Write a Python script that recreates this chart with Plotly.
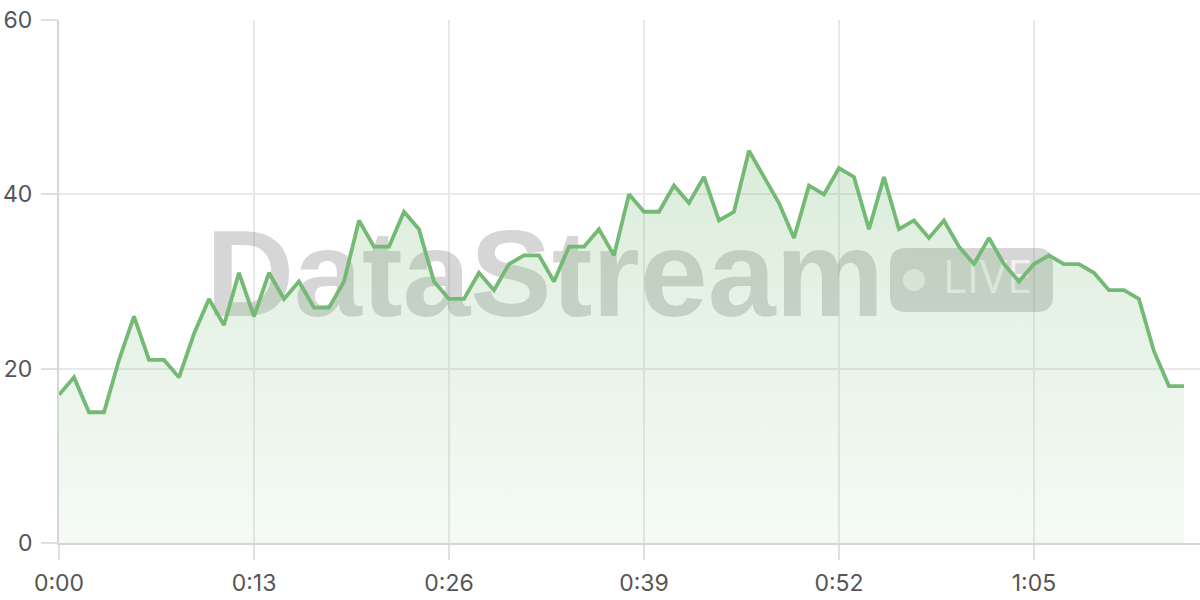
import plotly.graph_objects as go

# ---- data ----
values = [17, 19, 15, 15, 21, 26, 21, 21, 19, 24, 28, 25, 31, 26, 31, 28, 30, 27, 27, 30,
          37, 34, 34, 38, 36, 30, 28, 28, 31, 29, 32, 33, 33, 30, 34, 34, 36, 33, 40, 38,
          38, 41, 39, 42, 37, 38, 45, 42, 39, 35, 41, 40, 43, 42, 36, 42, 36, 37, 35, 37,
          34, 32, 35, 32, 30, 32, 33, 32, 32, 31, 29, 29, 28, 22, 18, 18]
seconds = list(range(len(values)))
tick_vals = [0, 13, 26, 39, 52, 65]
tick_text = ["0:00", "0:13", "0:26", "0:39", "0:52", "1:05"]
y_ticks = [0, 20, 40, 60]

LINE = "rgb(116,185,116)"
GRID = "#e9e9e9"
TICK = "#e0e0e0"
AXIS = "#d6d6d6"
LABEL = "#555555"
FONT = "Inter"

fig = go.Figure()

# watermark text (drawn first so it sits under the data)
fig.add_trace(go.Scatter(
    x=[32.4], y=[29.5], mode="text", text=["DataStream"],
    textposition="middle center",
    textfont=dict(family="Liberation Sans", size=122, color="rgba(120,120,120,0.30)", weight=700),
    hoverinfo="skip", showlegend=False, cliponaxis=False))
fig.add_trace(go.Scatter(
    x=[61.9], y=[30.0], mode="text", text=["LIVE"],
    textposition="middle center",
    textfont=dict(family="Open Sans", size=46, color="rgba(255,255,255,0.70)", weight=400),
    hoverinfo="skip", showlegend=False, cliponaxis=False))

# data
fig.add_trace(go.Scatter(
    x=seconds, y=values, mode="lines",
    line=dict(color=LINE, width=3.8),
    fill="tozeroy",
    fillgradient=dict(type="vertical", start=0, stop=45,
                      colorscale=[[0, "rgba(116,185,116,0.07)"], [1, "rgba(116,185,116,0.26)"]]),
    hoverinfo="skip", showlegend=False))

badge_x = (971.5 - 59) / 15
badge_y = (543 - 280) / (523 / 60)
fig.add_shape(type="path", xref="x", yref="y", xsizemode="pixel", ysizemode="pixel",
              xanchor=badge_x, yanchor=badge_y, layer="between",
              path="M -65.5,-32 L 65.5,-32 Q 81.5,-32 81.5,-16 L 81.5,16 Q 81.5,32 65.5,32 "
                   "L -65.5,32 Q -81.5,32 -81.5,16 L -81.5,-16 Q -81.5,-32 -65.5,-32 Z",
              fillcolor="rgba(120,120,120,0.30)", line=dict(width=0))
fig.add_shape(type="circle", xref="x", yref="y", xsizemode="pixel", ysizemode="pixel",
              xanchor=badge_x, yanchor=badge_y, layer="between",
              x0=-68.5, x1=-46.5, y0=-11, y1=11,
              fillcolor="rgba(255,255,255,0.60)", line=dict(width=0))

fig.update_layout(
    width=1200, height=600,
    margin=dict(l=59, r=0, t=20, b=57),
    paper_bgcolor="white", plot_bgcolor="white",
    font=dict(family=FONT, size=23, color=LABEL),
    showlegend=False,
    xaxis=dict(range=[0, 76.07], tickvals=tick_vals, ticktext=tick_text,
               showgrid=True, gridcolor=GRID, gridwidth=2,
               ticks="outside", ticklen=15, tickcolor=TICK, tickwidth=2,
               ticklabelstandoff=3,
               showline=True, linecolor=AXIS, linewidth=2,
               zeroline=False, fixedrange=True,
               tickfont=dict(family=FONT, size=23, color=LABEL)),
    yaxis=dict(range=[0, 60], tickvals=y_ticks,
               showgrid=True, gridcolor=GRID, gridwidth=2,
               ticks="outside", ticklen=16, tickcolor=TICK, tickwidth=2,
               ticklabelstandoff=4,
               showline=True, linecolor=AXIS, linewidth=2,
               zeroline=False, fixedrange=True,
               tickfont=dict(family=FONT, size=23, color=LABEL)),
)

fig.write_html("out.html", config={"displayModeBar": False},
               post_script="document.body.style.margin='0';document.body.style.overflow='hidden';")
